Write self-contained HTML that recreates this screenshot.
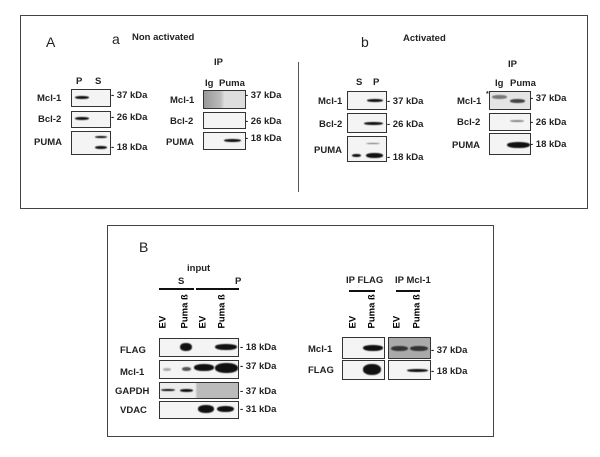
<!DOCTYPE html>
<html><head><style>
body{margin:0;width:600px;height:457px;background:#fff;position:relative;overflow:hidden;font-family:"Liberation Sans",sans-serif}
.a{position:absolute}
.t{position:absolute;font-size:9.5px;font-weight:bold;color:#222;white-space:nowrap;line-height:1}
.bx{position:absolute;border:1px solid #333;background:#f4f4f4;box-sizing:border-box}
.bd{position:absolute;background:#111;border-radius:45%;filter:blur(0.6px)}
.r{position:absolute;transform:rotate(-90deg);transform-origin:left bottom;font-size:9.5px;font-weight:bold;white-space:nowrap;line-height:1}
.bar{position:absolute;height:2px;background:#111}
</style></head><body>
<!-- Panel A -->
<div class="a" style="left:20px;top:15px;width:566px;height:192px;border:1px solid #444"></div>
<div class="a" style="left:46px;top:34px;font-size:14px;color:#222">A</div>
<div class="a" style="left:112px;top:31px;font-size:14px;color:#222">a</div>
<div class="t" style="left:132px;top:33px">Non activated</div>
<div class="a" style="left:298px;top:62px;width:1px;height:130px;background:#555"></div>
<div class="a" style="left:361px;top:34px;font-size:14px;color:#222">b</div>
<div class="t" style="left:403px;top:34px">Activated</div>

<!-- a left -->
<div class="t" style="left:76px;top:77px">P</div><div class="t" style="left:95px;top:77px">S</div>
<div class="bx" style="left:71px;top:89px;width:40px;height:18px"></div>
<div class="bx" style="left:71px;top:111px;width:40px;height:17px"></div>
<div class="bx" style="left:71px;top:131px;width:40px;height:24px"></div>
<div class="bd" style="left:75px;top:96px;width:14px;height:3px"></div>
<div class="bd" style="left:75px;top:117px;width:14px;height:3px"></div>
<div class="bd" style="left:95px;top:136px;width:12px;height:2px"></div>
<div class="bd" style="left:95px;top:146px;width:12px;height:3px"></div>
<div class="t" style="left:37px;top:94px">Mcl-1</div>
<div class="t" style="left:38px;top:115px">Bcl-2</div>
<div class="t" style="left:34px;top:138px">PUMA</div>
<div class="t" style="left:111px;top:91px">- 37 kDa</div>
<div class="t" style="left:111px;top:113px">- 26 kDa</div>
<div class="t" style="left:111px;top:143px">- 18 kDa</div>
<!-- a IP -->
<div class="t" style="left:214px;top:58px">IP</div>
<div class="t" style="left:205px;top:79px">Ig</div><div class="t" style="left:219px;top:79px">Puma</div>
<div class="bx" style="left:203px;top:90px;width:43px;height:19px;background:linear-gradient(90deg,#999,#bbb 40%,#ddd 50%,#ddd)"></div>
<div class="bx" style="left:203px;top:112px;width:43px;height:17px"></div>
<div class="bx" style="left:203px;top:132px;width:43px;height:18px"></div>
<div class="bd" style="left:224px;top:139px;width:17px;height:3px"></div>
<div class="t" style="left:170px;top:96px">Mcl-1</div>
<div class="t" style="left:170px;top:117px">Bcl-2</div>
<div class="t" style="left:166px;top:138px">PUMA</div>
<div class="t" style="left:245px;top:91px">- 37 kDa</div>
<div class="t" style="left:245px;top:117px">- 26 kDa</div>
<div class="t" style="left:245px;top:134px">- 18 kDa</div>
<!-- b left -->
<div class="t" style="left:356px;top:78px">S</div><div class="t" style="left:373px;top:78px">P</div>
<div class="bx" style="left:347px;top:91px;width:40px;height:19px"></div>
<div class="bx" style="left:347px;top:113px;width:40px;height:20px"></div>
<div class="bx" style="left:347px;top:136px;width:40px;height:26px"></div>
<div class="bd" style="left:367px;top:99px;width:16px;height:3px"></div>
<div class="bd" style="left:364px;top:122px;width:19px;height:3px"></div>
<div class="bd" style="left:366px;top:143px;width:14px;height:1px;background:#666"></div>
<div class="bd" style="left:352px;top:154px;width:9px;height:3px"></div>
<div class="bd" style="left:366px;top:153px;width:17px;height:5px"></div>
<div class="t" style="left:318px;top:97px">Mcl-1</div>
<div class="t" style="left:319px;top:120px">Bcl-2</div>
<div class="t" style="left:314px;top:146px">PUMA</div>
<div class="t" style="left:387px;top:97px">- 37 kDa</div>
<div class="t" style="left:387px;top:120px">- 26 kDa</div>
<div class="t" style="left:387px;top:153px">- 18 kDa</div>
<!-- b IP -->
<div class="t" style="left:508px;top:60px">IP</div>
<div class="t" style="left:495px;top:79px">Ig</div><div class="t" style="left:510px;top:79px">Puma</div>
<div class="bx" style="left:489px;top:91px;width:42px;height:19px;background:#e4e4e4"></div>
<div class="bx" style="left:489px;top:113px;width:42px;height:18px"></div>
<div class="bx" style="left:489px;top:133px;width:42px;height:22px"></div>
<div class="bd" style="left:492px;top:95px;width:15px;height:4px;background:#777"></div>
<div class="bd" style="left:510px;top:99px;width:15px;height:4px;background:#444"></div>
<div class="bd" style="left:510px;top:120px;width:14px;height:2px;background:#888"></div>
<div class="bd" style="left:507px;top:142px;width:23px;height:6px"></div>
<div class="t" style="left:486px;top:91px;font-size:7px">*</div>
<div class="t" style="left:457px;top:97px">Mcl-1</div>
<div class="t" style="left:457px;top:118px">Bcl-2</div>
<div class="t" style="left:452px;top:141px">PUMA</div>
<div class="t" style="left:530px;top:94px">- 37 kDa</div>
<div class="t" style="left:530px;top:118px">- 26 kDa</div>
<div class="t" style="left:530px;top:140px">- 18 kDa</div>

<!-- Panel B -->
<div class="a" style="left:107px;top:225px;width:385px;height:210px;border:1px solid #444"></div>
<div class="a" style="left:139px;top:239px;font-size:14px;color:#222">B</div>
<div class="t" style="left:187px;top:264px">input</div>
<div class="t" style="left:178px;top:277px">S</div><div class="t" style="left:235px;top:277px">P</div>
<div class="bar" style="left:159px;top:288px;width:35px"></div>
<div class="bar" style="left:196px;top:288px;width:43px"></div>
<div class="r" style="left:168px;top:319px">EV</div>
<div class="r" style="left:190px;top:319px">Puma ß</div>
<div class="r" style="left:208px;top:319px">EV</div>
<div class="r" style="left:227px;top:319px">Puma ß</div>
<div class="bx" style="left:159px;top:338px;width:80px;height:19px"></div>
<div class="bx" style="left:159px;top:360px;width:80px;height:19px"></div>
<div class="bx" style="left:159px;top:382px;width:80px;height:17px;background:linear-gradient(90deg,#ececec 45%,#bbb 48%,#bbb)"></div>
<div class="bx" style="left:159px;top:401px;width:80px;height:18px"></div>
<div class="bd" style="left:180px;top:343px;width:12px;height:8px"></div>
<div class="bd" style="left:215px;top:344px;width:22px;height:6px"></div>
<div class="bd" style="left:163px;top:368px;width:8px;height:3px;background:#aaa"></div>
<div class="bd" style="left:182px;top:367px;width:9px;height:4px;background:#555"></div>
<div class="bd" style="left:194px;top:364px;width:20px;height:7px"></div>
<div class="bd" style="left:215px;top:363px;width:23px;height:10px"></div>
<div class="bd" style="left:161px;top:389px;width:14px;height:2px"></div>
<div class="bd" style="left:180px;top:389px;width:13px;height:3px"></div>
<div class="bd" style="left:198px;top:405px;width:16px;height:8px"></div>
<div class="bd" style="left:217px;top:406px;width:17px;height:6px"></div>
<div class="t" style="left:120px;top:346px">FLAG</div>
<div class="t" style="left:120px;top:368px">Mcl-1</div>
<div class="t" style="left:115px;top:387px">GAPDH</div>
<div class="t" style="left:120px;top:406px">VDAC</div>
<div class="t" style="left:240px;top:343px">- 18 kDa</div>
<div class="t" style="left:240px;top:362px">- 37 kDa</div>
<div class="t" style="left:240px;top:387px">- 37 kDa</div>
<div class="t" style="left:240px;top:405px">- 31 kDa</div>
<!-- IP -->
<div class="t" style="left:346px;top:276px">IP FLAG</div>
<div class="t" style="left:395px;top:276px">IP Mcl-1</div>
<div class="bar" style="left:349px;top:290px;width:26px"></div>
<div class="bar" style="left:396px;top:290px;width:24px"></div>
<div class="r" style="left:358px;top:319px">EV</div>
<div class="r" style="left:377px;top:319px">Puma ß</div>
<div class="r" style="left:402px;top:319px">EV</div>
<div class="r" style="left:422px;top:319px">Puma ß</div>
<div class="bx" style="left:342px;top:337px;width:43px;height:22px"></div>
<div class="bx" style="left:342px;top:360px;width:43px;height:20px"></div>
<div class="bx" style="left:388px;top:337px;width:43px;height:22px;background:#aaa"></div>
<div class="bx" style="left:388px;top:360px;width:43px;height:20px"></div>
<div class="bd" style="left:363px;top:345px;width:20px;height:6px"></div>
<div class="bd" style="left:363px;top:364px;width:18px;height:11px"></div>
<div class="bd" style="left:391px;top:346px;width:17px;height:5px;background:#333"></div>
<div class="bd" style="left:410px;top:346px;width:18px;height:5px;background:#333"></div>
<div class="bd" style="left:407px;top:369px;width:21px;height:3px"></div>
<div class="t" style="left:308px;top:345px">Mcl-1</div>
<div class="t" style="left:308px;top:366px">FLAG</div>
<div class="t" style="left:431px;top:346px">- 37 kDa</div>
<div class="t" style="left:431px;top:367px">- 18 kDa</div>
</body></html>
